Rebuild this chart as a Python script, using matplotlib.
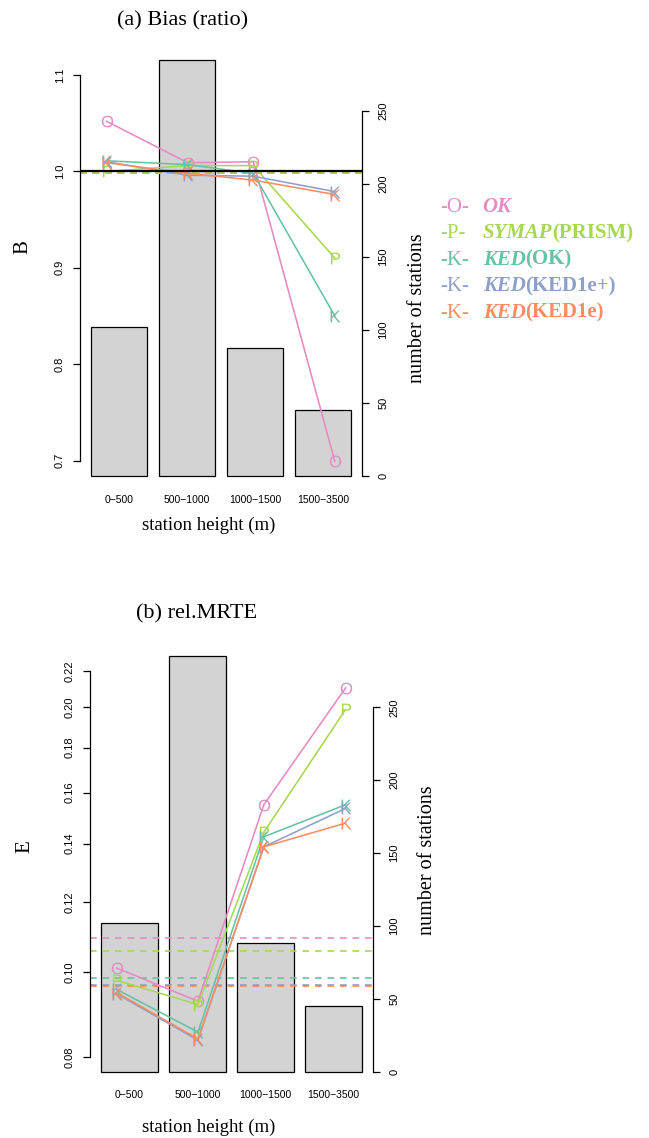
import matplotlib
matplotlib.use('Agg')
import matplotlib.pyplot as plt
from matplotlib.ticker import FixedLocator, FixedFormatter, NullLocator

plt.rcParams['mathtext.fontset'] = 'custom'
plt.rcParams['mathtext.sf'] = 'Liberation Sans'

SERIF = 'Liberation Serif'
SANS = 'Liberation Sans'

# station height classes and number of stations per class
heights = ['0−500', '500−1000', '1000−1500', '1500−3500']
n_stations = [102, 285, 88, 45]
# x position of the method points (in bar units)
line_pos = [0.48, 1.91, 3.07, 4.51]

letters = ['O', 'P', 'K', 'K', 'K']
name_main = ['OK', 'SYMAP', 'KED', 'KED', 'KED']
name_extra = ['', '(PRISM)', '(OK)', '(KED1e+)', '(KED1e)']
colors = ['#E78AC3', '#A6D854', '#66C2A5', '#8DA0CB', '#FC8D62']

# (a) bias ratio per height class
bias_ok = [1.052, 1.009, 1.010, 0.699]
bias_symap = [1.000, 1.006, 1.006, 0.910]
bias_ked_ok = [1.011, 1.007, 0.998, 0.850]
bias_ked1ep = [1.010, 0.996, 0.995, 0.979]
bias_ked1e = [1.009, 0.998, 0.991, 0.976]
bias_all = [0.998, 0.998, 0.998, 0.998, 0.998]

# (b) rel.MRTE per height class
mrte_ok = [0.1010, 0.0926, 0.1550, 0.2105]
mrte_symap = [0.0978, 0.0918, 0.1442, 0.1990]
mrte_ked_ok = [0.0955, 0.0854, 0.1425, 0.1550]
mrte_ked1ep = [0.0944, 0.0836, 0.1388, 0.1535]
mrte_ked1e = [0.0947, 0.0839, 0.1388, 0.1477]
mrte_all = [0.1092, 0.1056, 0.0983, 0.0966, 0.0964]

count_ticks = [0, 50, 100, 150, 200, 250]

W, H = 649, 1138
fig = plt.figure(figsize=(W / 100, H / 100), dpi=100)


def rect(x0, y0, x1, y1):
    return [x0 / W, (H - y1) / H, (x1 - x0) / W, (y1 - y0) / H]


def draw_panel(r, series, overall, ylim, ticks, ticklabels, log=False, dash_order=None):
    ax = fig.add_axes(r)
    pos = [0.7 + 1.2 * i for i in range(len(n_stations))]
    ax.bar(pos, n_stations, width=1, color='#d3d3d3', edgecolor='black', linewidth=0.9)
    ax.set_xlim(0.016, 4.984)
    ax.set_ylim(-11.4, 296.4)
    ax.set_xticks(pos)
    ax.set_xticklabels(heights, fontfamily=SANS, fontsize=7.5)
    ax.tick_params(axis='x', length=0, pad=1.5)

    axl = ax.twinx()
    ax.yaxis.tick_right()
    ax.set_yticks(count_ticks)
    ax.set_yticklabels([str(t) for t in count_ticks], fontfamily=SANS, fontsize=8,
                       rotation=90, va='center', ha='left')
    ax.tick_params(axis='y', length=5, width=0.9, pad=7)
    for s in ['top', 'bottom', 'left']:
        ax.spines[s].set_visible(False)
    ax.spines['right'].set_bounds(0, 250)
    ax.spines['right'].set_linewidth(0.9)

    if log:
        axl.set_yscale('log')
    axl.set_ylim(*ylim)
    axl.yaxis.tick_left()
    axl.yaxis.set_major_locator(FixedLocator(ticks))
    axl.yaxis.set_major_formatter(FixedFormatter(ticklabels))
    axl.yaxis.set_minor_locator(NullLocator())
    axl.tick_params(axis='y', length=5, width=0.9, pad=6, labelsize=8)
    for lab in axl.get_yticklabels():
        lab.set_fontfamily(SANS)
        lab.set_rotation(90)
        lab.set_va('center')
        lab.set_ha('right')
    for s in ['top', 'bottom', 'right']:
        axl.spines[s].set_visible(False)
    axl.spines['left'].set_visible(True)
    axl.spines['left'].set_bounds(ticks[0], ticks[-1])
    axl.spines['left'].set_linewidth(0.9)

    order = dash_order if dash_order is not None else range(len(overall))
    for i in order:
        axl.axhline(overall[i], color=colors[i], lw=1.2, ls=(0, (4, 3.5)))

    for vals, col, let in zip(series, colors, letters):
        axl.plot(line_pos, vals, color=col, lw=1.15, marker='$\\mathsf{%s}$' % let,
                 markersize=8.5, markeredgewidth=0, markerfacecolor=col)
    return ax, axl


# (a) bias
ax1, axl1 = draw_panel(rect(80.3, 43.5, 361.7, 492.6),
                       [bias_ok, bias_symap, bias_ked_ok, bias_ked1ep, bias_ked1e],
                       bias_all, (0.6667, 1.1327),
                       [0.7, 0.8, 0.9, 1.0, 1.1], ['0.7', '0.8', '0.9', '1.0', '1.1'],
                       dash_order=[0, 2, 3, 4, 1])
axl1.axhline(1.0, color='black', lw=1.6)

# (b) rel.MRTE
e_ticks = [0.08, 0.10, 0.12, 0.14, 0.16, 0.18, 0.20, 0.22]
ax2, axl2 = draw_panel(rect(90.4, 639.7, 372.5, 1088.3),
                       [mrte_ok, mrte_symap, mrte_ked_ok, mrte_ked1ep, mrte_ked1e],
                       mrte_all, (0.0737, 0.2389),
                       e_ticks, ['%.2f' % t for t in e_ticks], log=True,
                       dash_order=[4, 3, 2, 1, 0])

# overlay for titles, labels and legend (pixel coordinates)
lax = fig.add_axes([0, 0, 1, 1])
lax.axis('off')
lax.set_xlim(0, W)
lax.set_ylim(H, 0)

lax.text(183, 21, '(a) Bias (ratio)', family=SERIF, fontsize=16, ha='center', va='center')
lax.text(197, 614, '(b) rel.MRTE', family=SERIF, fontsize=16, ha='center', va='center')
lax.text(209, 525, 'station height (m)', family=SERIF, fontsize=13.5, ha='center', va='center')
lax.text(209, 1127, 'station height (m)', family=SERIF, fontsize=13.5, ha='center', va='center')
lax.text(23, 247, 'B', family=SERIF, fontsize=15, rotation=90, ha='center', va='center')
lax.text(25, 847, 'E', family=SERIF, fontsize=15, rotation=90, ha='center', va='center')
lax.text(417, 308, 'number of stations', family=SERIF, fontsize=14.5, rotation=90,
         ha='center', va='center')
lax.text(428, 860, 'number of stations', family=SERIF, fontsize=14.5, rotation=90,
         ha='center', va='center')

# legend
for i in range(len(letters)):
    yb = 211.5 + 26.6 * i
    lax.text(440, yb, '-' + letters[i] + '-', family=SERIF, fontsize=15,
             color=colors[i], va='baseline', ha='left')
    t = lax.text(482.7, yb, name_main[i], family=SERIF, fontsize=15, style='italic',
                 weight='bold', color=colors[i], va='baseline', ha='left')
    if name_extra[i]:
        lax.annotate(name_extra[i], xy=(1, 0), xycoords=t, family=SERIF, fontsize=15,
                     weight='bold', color=colors[i], va='bottom', ha='left')

fig.savefig('out.png', dpi=100)
